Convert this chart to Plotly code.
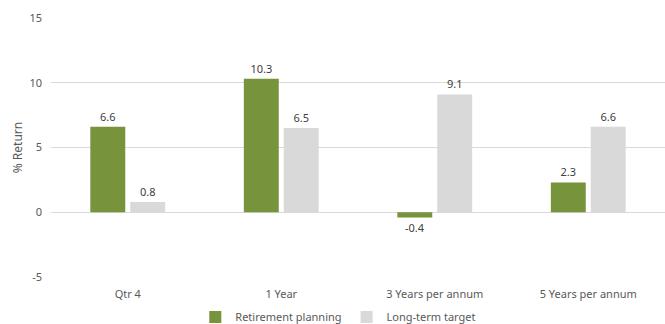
import plotly.graph_objects as go

categories = ["Qtr 4", "1 Year", "3 Years per annum", "5 Years per annum"]
retirement_planning = [6.6, 10.3, -0.4, 2.3]
long_term_target = [0.8, 6.5, 9.1, 6.6]
y_ticks = [-5, 0, 5, 10, 15]
y_tick_labels = ["-5", "0", "5", "10", "15"]

FONT = "Noto Sans"
TEXT = "#595959"

fig = go.Figure()
for name, vals, color in [
    ("Retirement planning", retirement_planning, "#77933c"),
    ("Long-term target", long_term_target, "#d9d9d9"),
]:
    fig.add_trace(go.Bar(
        name=name, x=categories, y=vals,
        marker=dict(color=color, line=dict(width=0)),
        text=[f"{v:.1f}" for v in vals],
        textposition="outside",
        textfont=dict(family=FONT, size=11, color="#404040"),
        cliponaxis=False,
    ))

fig.update_layout(
    width=665, height=324,
    margin=dict(l=51, r=0, t=18, b=47, autoexpand=False),
    paper_bgcolor="white", plot_bgcolor="white",
    barmode="group", bargap=0.48, bargroupgap=0.125,
    font=dict(family=FONT, size=11, color=TEXT),
    showlegend=True,
    legend=dict(orientation="h", x=0.235, xanchor="left", y=-0.098, yanchor="top",
                font=dict(family=FONT, size=11, color=TEXT),
                itemwidth=30, traceorder="normal"),
    xaxis=dict(showline=False, ticks="", ticklabelstandoff=9,
               tickfont=dict(size=11, color=TEXT)),
    yaxis=dict(range=[-5, 15], tickvals=y_ticks, ticktext=y_tick_labels,
               showgrid=True, gridcolor="#d9d9d9", gridwidth=1,
               zeroline=True, zerolinecolor="#d9d9d9", zerolinewidth=1,
               showline=False, ticks="", ticklabelstandoff=8,
               title=dict(text="% Return", font=dict(size=12, color=TEXT), standoff=4)),
)

fig.write_html("out.html")
